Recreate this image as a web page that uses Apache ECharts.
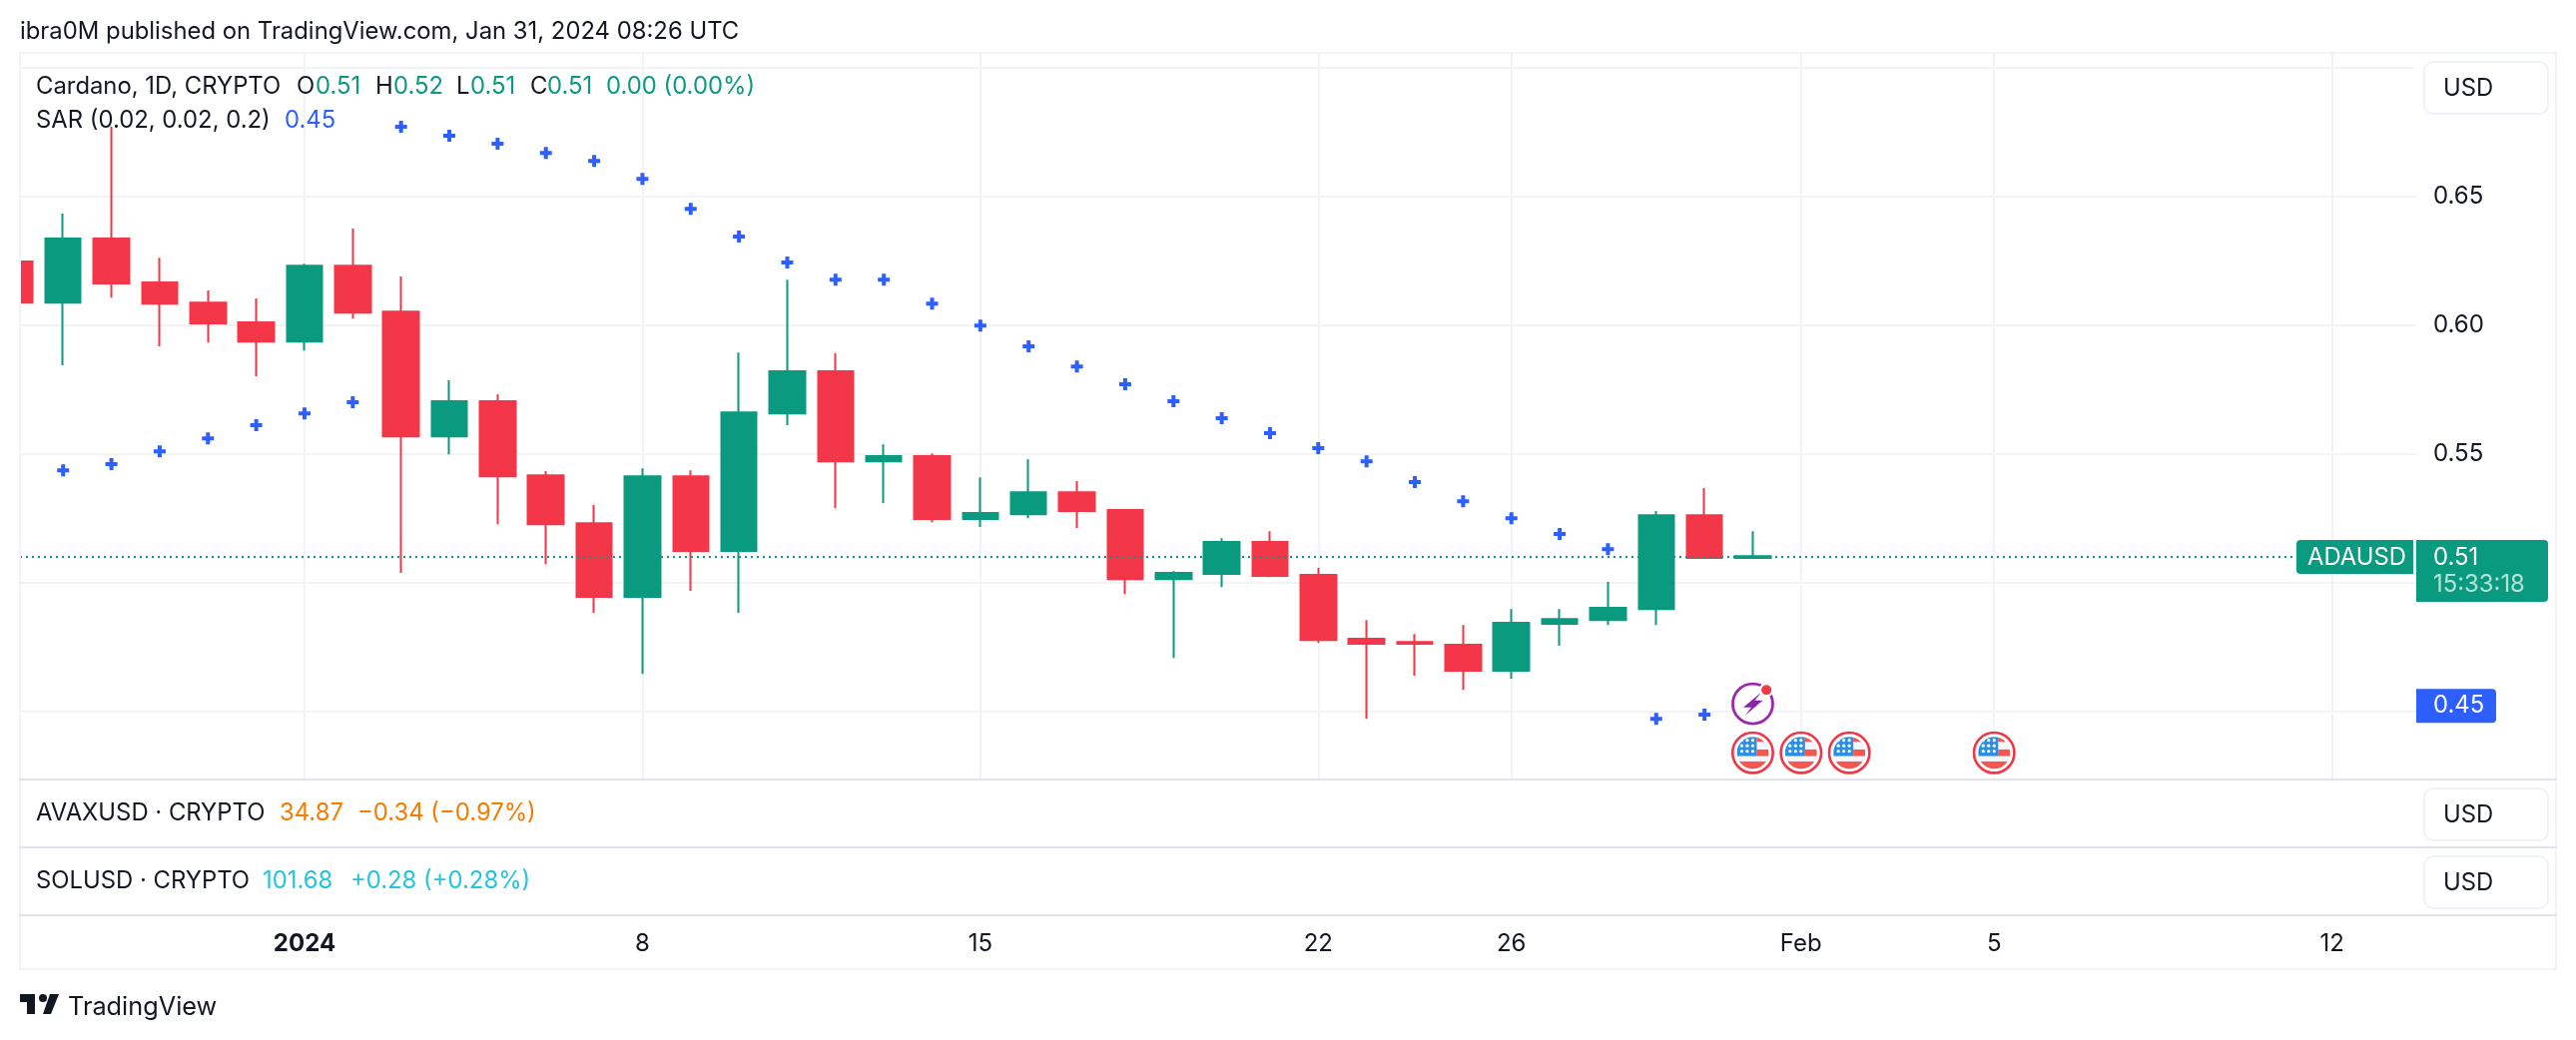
<!DOCTYPE html>
<html>
<head>
<meta charset="utf-8">
<title>ADAUSD</title>
<script src="https://cdn.jsdelivr.net/npm/echarts@6/dist/echarts.min.js"></script>
<style>
  html, body { margin: 0; padding: 0; background: #fff; }
  #main { width: 2580px; height: 1042px; }
</style>
</head>
<body>
<div id="main"></div>
<script>
// days counted from Jan 1 2024
const days   = [-6,-5,-4,-3,-2,-1,0,1,2,3,4,5,6,7,8,9,10,11,12,13,14,15,16,17,18,19,20,21,22,23,24,25,26,27,28,29,30];
const opens  = [.6246,.6087,.6335,.6165,.6087,.6010,.5936,.6230,.6052,.5568,.5704,.5417,.5231,.4945,.5413,.5123,.5657,.5820,.5471,.5491,.5247,.5266,.5351,.5282,.5014,.5034,.5158,.5030,.4782,.4770,.4759,.4658,.4840,.4855,.4898,.5262,.5096];
const closes = [.6087,.6335,.6161,.6083,.6006,.5936,.6230,.6048,.5568,.5704,.5413,.5227,.4945,.5413,.5123,.5661,.5820,.5471,.5491,.5247,.5270,.5351,.5278,.5014,.5038,.5158,.5026,.4778,.4763,.4763,.4658,.4844,.4859,.4902,.5262,.5096,.5103];
const lows   = [.6087,.5844,.6106,.5917,.5932,.5801,.5901,.6025,.5038,.5498,.5227,.5072,.4883,.4646,.4968,.4883,.5611,.5289,.5309,.5235,.5216,.5250,.5212,.4956,.4708,.4983,.5022,.4766,.4472,.4639,.4584,.4627,.4755,.4836,.4836,.5096,.5096];
const highs  = [.6246,.6432,.6769,.6261,.6134,.6103,.6238,.6374,.6188,.5785,.5731,.5433,.5301,.5444,.5436,.5893,.6176,.5890,.5537,.5502,.5409,.5479,.5394,.5282,.5045,.5173,.5200,.5057,.4855,.4801,.4836,.4898,.4898,.5003,.5278,.5367,.5200];

const sarDays   = [-6,-5,-4,-3,-2,-1,0,1,2,3,4,5,6,7,8,9,10,11,12,13,14,15,16,17,18,19,20,21,22,23,24,25,26,27,28,29,30];
const sarValues = [.6428,.5436,.5460,.5510,.5560,.5611,.5657,.5700,.6769,.6734,.6703,.6668,.6637,.6567,.6451,.6343,.6242,.6176,.6176,.6083,.5998,.5917,.5839,.5770,.5704,.5638,.5580,.5522,.5471,.5390,.5316,.5250,.5189,.5130,.4472,.4488,.4522];

const priceTicks  = [.45,.50,.55,.60,.65,.70];
const priceLabels = [.45,.50,.55,.60,.65];
const dateTicks   = [0,7,14,21,25,31,35,42];
const dateLabels  = ['2024','8','15','22','26','Feb','5','12'];

const flagDays  = [30,31,32,35];
const flagLevel = .4340;
const boltDays  = [30];
const boltLevel = .4530;

const lastPrice = .51;
const lastSar   = .4522;

const GREEN = '#0a9a80', RED = '#f43748', BLUE = '#2d5fff', INK = '#131722';
const GRIDLINE = '#f2f3f5', FRAME = '#f0f3fa', PANE = '#e0e3eb';
const FONT = '23.85px Inter';

const flagSvg = '<svg xmlns="http://www.w3.org/2000/svg" width="44" height="44" viewBox="-22 -22 44 44">'
    + '<defs><clipPath id="c"><circle r="16"/></clipPath></defs>'
    + '<circle r="20.2" fill="#fff" stroke="#f23645" stroke-width="2.6"/>'
    + '<g clip-path="url(#c)"><rect x="-16" y="-16" width="32" height="32" fill="#f5f6fa"/>'
    + '<rect x="4" y="-16" width="12" height="5" fill="#f4574f"/><rect x="4" y="-3.3" width="12" height="6.6" fill="#f4574f"/>'
    + '<rect x="-16" y="8.7" width="32" height="8" fill="#f4574f"/><rect x="-16" y="-16" width="20" height="19.3" fill="#2a8fe6"/>'
    + [-12.5,-7,-1.5].map(y => [-11,-5.5,0].map(x => `<circle cx="${x}" cy="${y}" r="1.6" fill="#fff"/>`).join('')).join('')
    + '</g></svg>';
const boltSvg = '<svg xmlns="http://www.w3.org/2000/svg" width="44" height="44" viewBox="-22 -22 44 44">'
    + '<circle r="20" fill="#fff" stroke="#9c27b0" stroke-width="2.8"/>'
    + '<polygon points="9,-12 -9.5,3.5 -1.5,3.5 -7.5,11.5 10,-3.5 2,-3.5" fill="#8e24aa"/>'
    + '<circle cx="13.7" cy="-14" r="7.2" fill="#fff"/><circle cx="13.7" cy="-14" r="5" fill="#f43748"/>'
    + '</svg>';
const svgSymbol = svg => 'image://data:image/svg+xml;charset=utf-8,' + encodeURIComponent(svg);

const txt = (x, y, text, fill, extra) => ({
    type: 'text', x, y, z: 30,
    style: Object.assign({text, fill, font: FONT, verticalAlign: 'middle'}, extra)
});
const box = (x, y, width, height, fill, r, extra) => ({
    type: 'rect', z: 20,
    shape: {x, y, width, height, r: r || 0},
    style: Object.assign({fill}, extra)
});

const frameGraphics = [
    // candle cut off by the left edge
    box(0, 54, 19, 726, '#fff'),
    // outer frame and pane separators
    box(19, 52, 2, 920, FRAME), box(2559, 52, 2, 920, FRAME),
    box(19, 52, 2542, 2, FRAME), box(19, 970, 2542, 2, FRAME),
    box(19, 780, 2542, 2, PANE), box(19, 848, 2542, 2, PANE), box(19, 916, 2542, 2, PANE),
    // currency buttons
    ...[62, 790, 858].map(y => box(2428, y, 124, 52, '#fff', 9, {stroke: FRAME, lineWidth: 2})),
    txt(2447, 89, 'USD', INK), txt(2447, 817, 'USD', INK), txt(2447, 885, 'USD', INK),
    // header and legends
    txt(20, 32, 'ibra0M published on TradingView.com, Jan 31, 2024 08:26 UTC', INK),
    txt(36, 87, 'Cardano, 1D, CRYPTO', INK),
    txt(297, 87, 'O', INK), txt(316, 87, '0.51', GREEN),
    txt(376, 87, 'H', INK), txt(394, 87, '0.52', GREEN),
    txt(457, 87, 'L', INK), txt(471, 87, '0.51', GREEN),
    txt(531, 87, 'C', INK), txt(548, 87, '0.51', GREEN),
    txt(607, 87, '0.00 (0.00%)', GREEN),
    txt(36, 121, 'SAR (0.02, 0.02, 0.2)', INK), txt(285, 121, '0.45', BLUE),
    txt(36, 815, 'AVAXUSD · CRYPTO', INK), txt(280, 815, '34.87', '#f57c00'), txt(358, 815, '\u22120.34 (\u22120.97%)', '#f57c00'),
    txt(36, 883, 'SOLUSD · CRYPTO', INK), txt(263, 883, '101.68', '#22c5dd'), txt(351, 883, '+0.28 (+0.28%)', '#22c5dd'),
    // footer logo
    {type: 'polygon', z: 30, shape: {points: [[20, 996], [35, 996], [35, 1016], [27, 1016], [27, 1004], [20, 1004]]}, style: {fill: INK}},
    {type: 'polygon', z: 30, shape: {points: [[43, 1016], [50, 996], [59, 996], [51, 1016]]}, style: {fill: INK}},
    {type: 'circle', z: 30, shape: {cx: 43, cy: 1000, r: 4}, style: {fill: INK}},
    txt(68, 1009, 'TradingView', INK, {font: '25.3px Inter'})
];

const chart = echarts.init(document.getElementById('main'));

const option = {
    animation: false,
    backgroundColor: '#fff',
    textStyle: {fontFamily: 'Inter'},
    grid: {left: 20, right: 160, top: 53, bottom: 261},
    xAxis: {
        type: 'value', min: -5.894, max: 43.744,
        axisLine: {show: false},
        axisTick: {show: false, customValues: dateTicks},
        axisLabel: {
            margin: 153, color: INK, fontSize: 24,
            customValues: dateTicks,
            formatter: v => {
                const label = dateLabels[dateTicks.indexOf(v)];
                return label === '2024' ? '{bold|' + label + '}' : label;
            },
            rich: {bold: {fontWeight: 700, fontSize: 24, color: INK, fontFamily: 'Inter'}}
        },
        splitLine: {show: true, lineStyle: {color: GRIDLINE, width: 2}}
    },
    yAxis: {
        type: 'value', position: 'right', min: .42363, max: .70558, scale: true,
        axisLine: {show: false},
        axisTick: {show: false, customValues: priceTicks},
        axisLabel: {margin: 17, color: INK, fontSize: 24, customValues: priceLabels, formatter: v => v.toFixed(2)},
        splitLine: {show: true, lineStyle: {color: GRIDLINE, width: 2}}
    },
    series: [{
        type: 'candlestick',
        barWidth: 36,
        encode: {x: 0, y: [1, 2, 3, 4]},
        data: days.map((d, i) => [d, opens[i], closes[i], lows[i], highs[i]]),
        itemStyle: {color: GREEN, color0: RED, borderColor: GREEN, borderColor0: RED, borderWidth: 2},
        markLine: {
            silent: true, symbol: 'none', animation: false,
            label: {show: false},
            lineStyle: {color: GREEN, width: 2, type: [2, 4], opacity: 1},
            data: [{yAxis: lastPrice}]
        }
    }, {
        type: 'scatter',
        symbol: 'path://M4 0h4v4h4v4H8v4H4V8H0V4h4z',
        symbolSize: 12,
        itemStyle: {color: BLUE, opacity: 1},
        data: sarDays.map((d, i) => [d, sarValues[i]])
    }, {
        type: 'scatter', z: 5,
        symbol: svgSymbol(flagSvg), symbolSize: 44,
        itemStyle: {opacity: 1},
        data: flagDays.map(d => [d, flagLevel])
    }, {
        type: 'scatter', z: 5,
        symbol: svgSymbol(boltSvg), symbolSize: 44,
        itemStyle: {opacity: 1},
        data: boltDays.map(d => [d, boltLevel])
    }],
    graphic: frameGraphics
};
chart.setOption(option);

// price tags follow the y axis
const priceY = chart.convertToPixel({yAxisIndex: 0}, lastPrice);
const sarY = chart.convertToPixel({yAxisIndex: 0}, lastSar);
chart.setOption({
    graphic: frameGraphics.concat([
        box(2417, priceY - 17, 3, 34, '#fff'),
        box(2300, priceY - 17, 117, 34, GREEN, [4, 0, 0, 4]),
        box(2420, priceY - 17, 132, 62, GREEN, [0, 4, 4, 0]),
        box(2420, sarY - 17, 80, 34, BLUE, [0, 4, 4, 0]),
        txt(2311, priceY + 1, 'ADAUSD', '#fff'),
        txt(2437, priceY + 1, lastPrice.toFixed(2), '#fff'),
        txt(2437, priceY + 28, '15:33:18', 'rgba(255,255,255,0.7)'),
        txt(2437, sarY, lastSar.toFixed(2), '#fff')
    ])
});
</script>
</body>
</html>
